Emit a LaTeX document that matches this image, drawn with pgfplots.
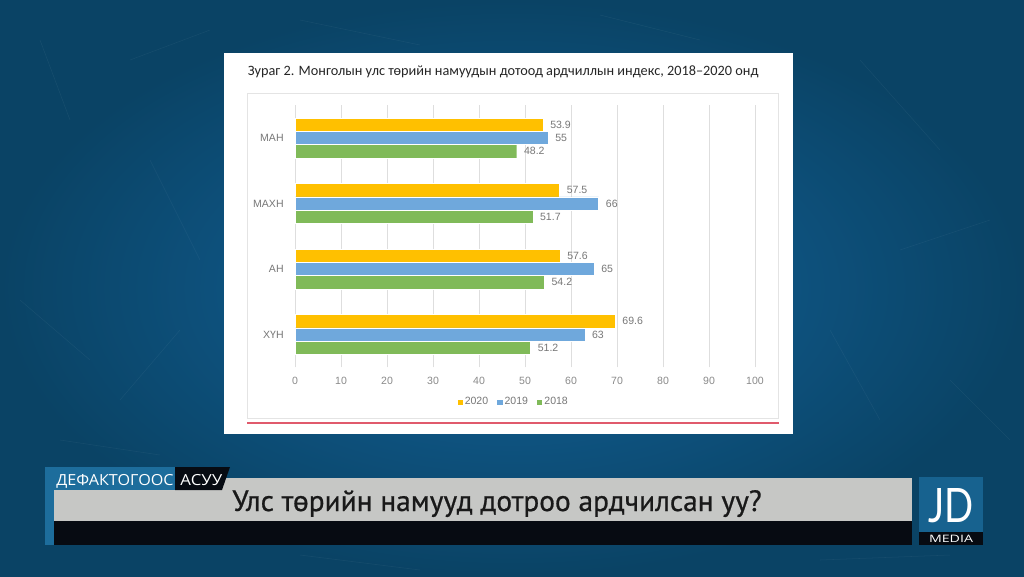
\documentclass[border=0pt]{standalone}
\usepackage{pgfplots}
\pgfplotsset{compat=1.18}
\usepackage{fontspec}
\setmainfont{Liberation Sans}
\newfontfamily\carlito{Carlito}
\newfontfamily\ptsans[FakeBold=0.7]{PT Sans}
\newfontfamily\opensans{Open Sans}
\newfontfamily\lato{Lato}
\definecolor{bgin}{HTML}{12639B}
\definecolor{bgout}{HTML}{0A4365}
\definecolor{c2020}{HTML}{FFC000}
\definecolor{c2019}{HTML}{6FA8DC}
\definecolor{c2018}{HTML}{80BA59}
\definecolor{gridgray}{HTML}{DEDEDE}
\definecolor{labgray}{HTML}{777777}
\definecolor{tickgray}{HTML}{8A8A8A}
\definecolor{redline}{HTML}{E05A6C}
\definecolor{bannergray}{HTML}{C6C7C5}
\definecolor{bannerblack}{HTML}{070B12}
\definecolor{bannerblue}{HTML}{1D6D9C}
\definecolor{jdblue}{HTML}{17628F}
\definecolor{boxgray}{HTML}{E4E4E4}
\begin{document}
\begin{tikzpicture}[x=0.75pt,y=-0.75pt]
% background
\shade[inner color=bgin, outer color=bgout] (0,0) rectangle (1024,576);
\begin{scope}[draw=white, opacity=0.05, line width=0.4pt]
\draw (40,40) -- (70,120); \draw (130,60) -- (210,30); \draw (150,160) -- (200,260);
\draw (20,300) -- (90,360); \draw (120,400) -- (180,330); \draw (860,60) -- (940,150);
\draw (900,250) -- (990,220); \draw (830,330) -- (880,420); \draw (950,380) -- (1010,440);
\draw (300,20) -- (420,45); \draw (600,15) -- (700,40); \draw (60,440) -- (160,455);
\draw (820,560) -- (950,555); \draw (300,555) -- (420,570);
\end{scope}
% white panel
\fill[white] (224,53) rectangle (793,434);
\draw[boxgray, line width=0.6pt] (247,93) rectangle (778,418);
\draw[redline, line width=0.8pt] (247,423) -- (779,423);
\node[anchor=base west, inner sep=0pt, text=black!85] at (247.5,75)
  {\resizebox{383pt}{!}{\carlito\fontsize{11.5}{13}\selectfont Зураг 2. Монголын улс төрийн намуудын дотоод ардчиллын индекс, 2018–2020 онд}};
% banner
\fill[bannergray] (54,478) rectangle (912,521);
\fill[bannerblack] (54,521) rectangle (912,545);
\fill[bannerblue] (45,467) rectangle (177,490);
\fill[bannerblue] (45,467) rectangle (54,545);
\fill[bannerblack] (175,467) -- (230,467) -- (222,490) -- (175,490) -- cycle;
\node[anchor=base west, inner sep=0pt, text=white] at (56,485)
  {\resizebox{88pt}{8.3pt}{\opensans ДЕФАКТОГООС}};
\node[anchor=base west, inner sep=0pt, text=white] at (180,485)
  {\resizebox{31.5pt}{8.3pt}{\opensans АСУУ}};
\node[anchor=base, inner sep=0pt, text=black!90] at (497,511)
  {\resizebox{397pt}{!}{\ptsans\fontsize{21}{24}\selectfont Улс төрийн намууд дотроо ардчилсан уу?}};
\fill[jdblue] (919,477) rectangle (983,532);
\fill[bannerblack] (919,532) rectangle (983,545);
\node[anchor=base, inner sep=0pt, text=white] at (951,522)
  {\resizebox{34pt}{25.5pt}{\lato JD}};
\node[anchor=base, inner sep=0pt, text=white] at (951,542)
  {\resizebox{33pt}{5.5pt}{\opensans MEDIA}};
% chart
\begin{axis}[
  at={(221.25pt,-275.44pt)}, anchor=south west,
  width=345pt, height=196.5pt, scale only axis,
  xbar, bar width=10pt,
  xmin=0, xmax=100, ymin=-0.5, ymax=3.5,
  xtick={0,10,...,100}, ytick={0,1,2,3},
  yticklabels={ХҮН,АН,МАХН,МАН},
  /pgf/number format/assume math mode=true,
  xmajorgrids, grid style={draw=gridgray, line width=0.6pt},
  axis line style={draw=none}, major tick length=0pt,
  tick label style={font=\fontsize{7.9}{9}\selectfont},
  xticklabel style={text=tickgray, yshift=-4pt},
  yticklabel style={text=labgray, xshift=-5pt},
  point meta=explicit symbolic,
  nodes near coords,
  every node near coord/.append style={font=\fontsize{7.9}{9}\selectfont, text=labgray, anchor=west, xshift=2pt},
  legend style={at={(0.474,-0.133)}, anchor=center, draw=none, fill=none,
    legend columns=3, font=\fontsize{7.9}{9}\selectfont, text=labgray,
    /tikz/every even column/.append style={column sep=5pt},
    nodes={inner sep=1.2pt}},
  legend image code/.code={\fill[#1] (0pt,-2.3pt) rectangle (4.6pt,2.3pt);},
]
\addplot[fill=c2020, draw=white, line width=0.3pt, bar shift=10pt] coordinates {(53.9,3) [53.9] (57.5,2) [57.5] (57.6,1) [57.6] (69.6,0) [69.6]};
\addplot[fill=c2019, draw=white, line width=0.3pt, bar shift=0pt] coordinates {(55,3) [55] (66,2) [66] (65,1) [65] (63,0) [63]};
\addplot[fill=c2018, draw=white, line width=0.3pt, bar shift=-10pt] coordinates {(48.2,3) [48.2] (51.7,2) [51.7] (54.2,1) [54.2] (51.2,0) [51.2]};
\legend{2020,2019,2018}
\end{axis}
\end{tikzpicture}
\end{document}
